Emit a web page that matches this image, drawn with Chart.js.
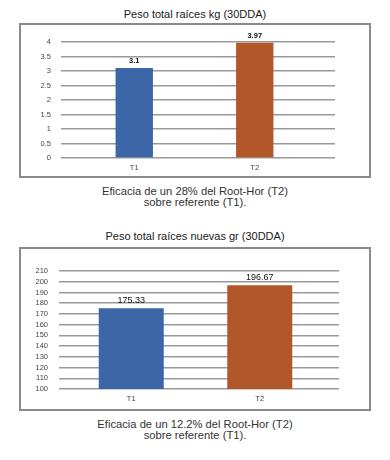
<!DOCTYPE html>
<html>
<head>
<meta charset="utf-8">
<script src="https://cdn.jsdelivr.net/npm/chart.js@4.4.0/dist/chart.umd.min.js"></script>
<style>
  body { margin: 0; background: #fff; font-family: "Liberation Sans", Arial, sans-serif; }
  .page { position: relative; width: 390px; height: 460px; }
  .titulo { position: absolute; left: 0; width: 390px; text-align: center; font-size: 11px; color: #1a1a1a; }
  .caja { position: absolute; left: 19px; width: 348px; border: 2px solid #8a8a8a; }
  .caja canvas { display: block; }
  .nota { position: absolute; left: 0; width: 390px; text-align: center; font-size: 11.2px; line-height: 11px; color: #333; }
</style>
</head>
<body>
<div class="page">
  <div class="titulo" style="top:8px;">Peso total raíces kg (30DDA)</div>
  <div class="caja" style="top:23px; height:151px;"><canvas id="graficoKg" width="348" height="151"></canvas></div>
  <div class="nota" style="top:186px;">Eficacia de un 28% del Root-Hor (T2)<br>sobre referente (T1).</div>

  <div class="titulo" style="top:230px;">Peso total raíces nuevas gr (30DDA)</div>
  <div class="caja" style="top:247px; height:160px;"><canvas id="graficoGr" width="348" height="160"></canvas></div>
  <div class="nota" style="top:419px;">Eficacia de un 12.2% del Root-Hor (T2)<br>sobre referente (T1).</div>
</div>

<script>
// Datos
const categorias = ['T1', 'T2'];
const pesoKg = [3.1, 3.97];
const pesoGr = [175.33, 196.67];
const coresBarras = ['#3b66a8', '#b2572a'];

// Etiquetas de valor encima de las barras
const etiquetasValor = {
    id: 'etiquetasValor',
    afterDatasetsDraw(chart, args, opts) {
        const ctx = chart.ctx;
        const meta = chart.getDatasetMeta(0);
        const valores = chart.data.datasets[0].data;
        ctx.save();
        ctx.font = opts.font;
        ctx.fillStyle = '#111';
        ctx.textAlign = 'center';
        ctx.textBaseline = 'bottom';
        meta.data.forEach((barra, i) => {
            ctx.fillText(String(valores[i]), barra.x, barra.y - opts.gap);
        });
        ctx.restore();
    }
};

function crearGrafico(id, valores, cfg) {
    const corGrid = '#999';
    return new Chart(document.getElementById(id), {
        type: 'bar',
        data: {
            labels: categorias,
            datasets: [{
                data: valores,
                backgroundColor: coresBarras,
                barPercentage: cfg.barPct,
                categoryPercentage: 1
            }]
        },
        options: {
            responsive: false,
            animation: false,
            layout: { padding: { top: cfg.top, right: cfg.right, left: 0, bottom: 0 } },
            plugins: {
                legend: { display: false },
                tooltip: { enabled: false },
                etiquetasValor: { font: cfg.fontValor, gap: cfg.gap }
            },
            scales: {
                x: {
                    grid: { display: false, drawTicks: false },
                    border: { display: false },
                    ticks: { color: '#444', font: { family: 'Liberation Sans', size: 7.5 }, padding: cfg.padX },
                    afterFit: s => { s.height = cfg.altoX; }
                },
                y: {
                    min: cfg.min, max: cfg.max,
                    grid: { color: corGrid, lineWidth: 1.5, drawTicks: true, tickLength: cfg.tickIzq },
                    border: { display: false },
                    ticks: {
                        stepSize: cfg.paso, autoSkip: false, color: '#444',
                        font: { family: 'Liberation Sans', size: 7.5 }, padding: cfg.padY,
                        callback: v => String(v)
                    },
                    afterFit: s => { s.width = cfg.anchoY; }
                },
                yDer: {
                    position: 'right',
                    min: cfg.min, max: cfg.max,
                    grid: { color: corGrid, lineWidth: 1.5, drawOnChartArea: false, drawTicks: true, tickLength: cfg.tickDer },
                    border: { display: false },
                    ticks: { display: false, autoSkip: false, stepSize: cfg.paso },
                    afterFit: s => { s.width = cfg.tickDer; }
                }
            }
        },
        plugins: [etiquetasValor]
    });
}

crearGrafico('graficoKg', pesoKg, {
    min: 0, max: 4, paso: 0.5,
    top: 17, right: 34, anchoY: 53, tickIzq: 13, tickDer: 20, padY: 10,
    altoX: 18, padX: 5, barPct: 0.31,
    fontValor: 'bold 7.5px "Liberation Sans"', gap: 3
});

crearGrafico('graficoGr', pesoGr, {
    min: 100, max: 210, paso: 10,
    top: 22, right: 30, anchoY: 46, tickIzq: 8, tickDer: 15, padY: 11,
    altoX: 20, padX: 5, barPct: 0.506,
    fontValor: '9px "Liberation Sans"', gap: 3
});
</script>
</body>
</html>
